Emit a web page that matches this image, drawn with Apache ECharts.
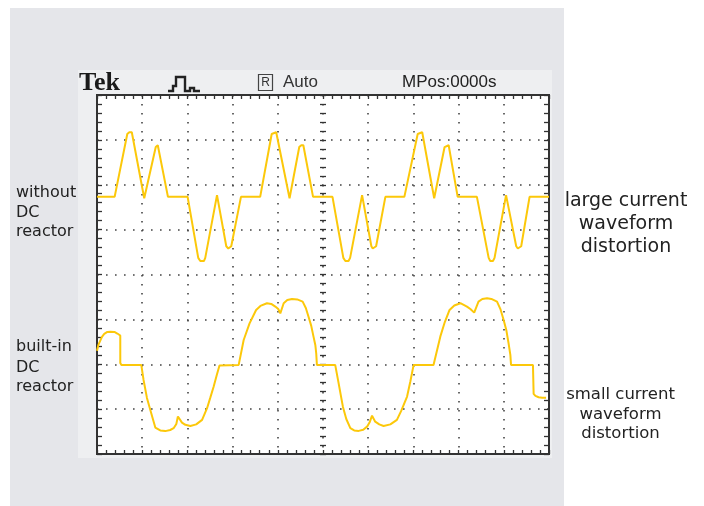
<!DOCTYPE html>
<html>
<head>
<meta charset="utf-8">
<script src="https://cdn.jsdelivr.net/npm/echarts@6/dist/echarts.min.js"></script>
<style>html,body{margin:0;padding:0;background:#fff}#c{width:704px;height:506px}</style>
</head>
<body>
<div id="c"></div>
<script>
// Time in 0.1 division units (0..100), amplitude in 0.1 division units (-40..40)
const withoutReactor = [
  [0,17.3],[3.9,17.3],[6.7,31.3],[7.15,31.7],[7.7,31.7],[8.05,31.3],[10.45,17.0],[13.0,28.4],[13.45,28.8],[13.8,28.4],[15.7,17.3],
  [20.05,17.3],[22.4,3.7],[22.85,3.0],[23.65,3.0],[23.95,3.7],[26.55,17.7],[28.6,6.3],[29.05,5.8],[29.4,5.8],[29.7,6.3],[31.85,17.3],
  [36.1,17.3],[38.65,31.3],[39.0,31.7],[39.65,31.7],[40.0,31.3],[42.6,17.0],[44.75,28.4],[45.2,28.8],[45.65,28.8],[45.95,28.4],[47.8,17.3],
  [52.1,17.3],[54.5,3.7],[54.95,3.0],[55.65,3.0],[56.0,3.7],[58.65,17.7],[60.7,6.3],[61.0,5.8],[61.4,5.8],[61.75,6.3],[63.8,17.3],
  [68.0,17.3],[70.95,31.3],[71.3,31.7],[71.95,31.7],[72.3,31.3],[74.6,17.0],[76.9,28.4],[77.3,28.8],[77.8,28.8],[78.1,28.4],[79.8,17.3],
  [84.05,17.3],[86.65,3.7],[87.0,3.0],[87.6,3.0],[87.95,3.7],[90.5,17.7],[92.75,6.3],[93.1,5.8],[93.5,5.8],[93.85,6.3],[95.7,17.3],[100,17.3]
];
const builtInReactor = [
  [0,-17.0],[0.3,-15.7],[1.1,-13.9],[1.6,-13.25],[2.3,-12.8],[2.95,-12.75],[3.85,-12.8],[4.5,-13.15],[5.15,-13.6],[5.15,-19.7],[5.4,-20.15],
  [9.8,-20.15],[10.3,-23.5],[11.05,-27.5],[12.0,-30.9],[12.9,-34.1],[14.0,-34.75],[15.1,-34.9],[16.2,-34.65],[16.95,-34.25],[17.55,-33.3],[17.9,-31.65],
  [18.8,-33.0],[19.55,-33.5],[20.65,-33.75],[21.95,-33.4],[23.25,-32.4],[24.35,-29.8],[25.05,-27.5],[25.8,-25.0],[26.5,-22.4],[27.1,-20.3],
  [31.35,-20.15],[32.45,-14.6],[33.75,-10.9],[35.2,-7.9],[36.15,-7.0],[37.6,-6.4],[38.55,-6.55],[39.45,-7.15],[40.1,-7.7],[40.55,-8.65],
  [41.3,-6.4],[42.1,-5.7],[43.15,-5.45],[44.3,-5.55],[45.5,-6.05],[46.2,-7.45],[46.8,-9.4],[47.4,-11.45],[47.9,-13.85],[48.3,-15.7],[48.5,-17.55],[48.65,-20.15],
  [52.7,-20.15],[53.45,-24.2],[54.4,-29.45],[55.15,-32.2],[56.05,-34.25],[56.9,-34.75],[57.9,-34.85],[58.9,-34.6],[59.75,-33.9],[60.35,-32.85],[60.85,-31.45],
  [61.55,-32.8],[62.45,-33.4],[63.4,-33.75],[64.9,-33.4],[66.35,-32.4],[67.3,-30.4],[68.6,-27.2],[69.3,-23.95],[70.05,-20.15],
  [74.45,-20.15],[75.95,-13.85],[76.95,-10.6],[78.0,-7.9],[79.05,-6.9],[80.4,-6.4],[81.85,-7.15],[82.6,-7.7],[83.45,-8.5],
  [84.4,-6.05],[85.25,-5.45],[86.3,-5.3],[87.25,-5.45],[88.5,-6.05],[89.25,-7.7],[89.95,-10.1],[90.55,-12.35],[91.05,-15.3],[91.45,-17.9],[91.6,-20.15],
  [96.45,-20.15],[96.6,-26.6],[97.0,-27.05],[97.7,-27.35],[98.5,-27.45],[99.35,-27.45]
];
const headerTexts = ['Tek', 'R', 'Auto', 'MPos:0000s'];
const leftLabelTop = ['without', 'DC', 'reactor'];
const leftLabelBottom = ['built-in', 'DC', 'reactor'];
const rightLabelTop = ['large current', 'waveform', 'distortion'];
const rightLabelBottom = ['small current', 'waveform', 'distortion'];

const INK = '#333';
const WAVE = '#fcc80a';
const dotLine = {color: '#444', width: 1.6, type: [1.6, 7.4]};

function edgeAxis(pos, inside, offset, line, split) {
  return {
    type: 'value', min: pos === 'x' ? 0 : -40, max: pos === 'x' ? 100 : 40, interval: 10,
    axisLine: {show: line, onZero: false, lineStyle: {color: INK, width: 2}},
    axisTick: {show: true, inside: inside, length: 3, lineStyle: {color: INK, width: 1.3}},
    minorTick: {show: true, splitNumber: 5, length: 3, lineStyle: {color: INK, width: 1.3}},
    axisLabel: {show: false},
    splitLine: {show: split, lineStyle: dotLine},
    offset: offset
  };
}
const xa0 = Object.assign(edgeAxis('x', true, 0, true, true), {position: 'bottom'});
xa0.axisTick.length = 4; xa0.minorTick.length = 4;
const xa1 = Object.assign(edgeAxis('x', true, 0, true, false), {position: 'top'});
xa1.axisTick.length = 4; xa1.minorTick.length = 4;
const ya0 = Object.assign(edgeAxis('y', true, 0, true, true), {position: 'left'});
ya0.axisTick.length = 5; ya0.minorTick.length = 5;
const ya1 = Object.assign(edgeAxis('y', true, 0, true, false), {position: 'right'});
ya1.axisTick.length = 5; ya1.minorTick.length = 5;
const ya2 = Object.assign(edgeAxis('y', true, -226, false, false), {position: 'left'});
const ya3 = Object.assign(edgeAxis('y', false, -226, false, false), {position: 'left'});

function txt(text, x, y, font, align, color) {
  return {type: 'text', z: 20, style: {text: text, x: x, y: y, font: font, fill: color || '#222',
    align: align || 'left', verticalAlign: 'middle', textAlign: align || 'left', textVerticalAlign: 'middle'}};
}
const labelFont = '16px "DejaVu Sans"';
const graphics = [
  {type: 'rect', z: -20, shape: {x: 10, y: 8, width: 554, height: 498}, style: {fill: '#e5e6ea'}},
  {type: 'rect', z: -19, shape: {x: 78, y: 70, width: 474, height: 388}, style: {fill: '#eeeff1'}},
  txt(headerTexts[0], 79, 83, 'bold 26px "Liberation Serif"', 'left', '#1a1a1a'),
  {type: 'polyline', z: 20, shape: {points: [[168, 91], [173, 91], [173, 86], [176, 86], [176, 77], [185, 77], [185, 91], [190, 91], [190, 88], [194, 88], [194, 91], [200, 91]]},
    style: {stroke: '#222', lineWidth: 2.4, fill: null}},
  {type: 'rect', z: 20, shape: {x: 258.5, y: 74.5, width: 14, height: 16}, style: {fill: 'none', stroke: '#444', lineWidth: 1.2}},
  txt(headerTexts[1], 265.5, 83, '12px "Liberation Sans"', 'center', '#333'),
  txt(headerTexts[2], 283, 82, '17px "Liberation Sans"', 'left', '#333'),
  txt(headerTexts[3], 402, 82, '17px "Liberation Sans"', 'left', '#222'),
  txt(leftLabelTop[0], 16, 192.5, labelFont), txt(leftLabelTop[1], 16, 212.5, labelFont), txt(leftLabelTop[2], 16, 232, labelFont),
  txt(leftLabelBottom[0], 16, 347, labelFont), txt(leftLabelBottom[1], 16, 367.5, labelFont), txt(leftLabelBottom[2], 16, 387, labelFont),
  txt(rightLabelTop[0], 626, 201.5, '19px "DejaVu Sans"', 'center'),
  txt(rightLabelTop[1], 626, 224.5, '19px "DejaVu Sans"', 'center'),
  txt(rightLabelTop[2], 626, 247, '19px "DejaVu Sans"', 'center'),
  txt(rightLabelBottom[0], 620.5, 395, '16.5px "DejaVu Sans"', 'center'),
  txt(rightLabelBottom[1], 620.5, 414.5, '16.5px "DejaVu Sans"', 'center'),
  txt(rightLabelBottom[2], 620.5, 434, '16.5px "DejaVu Sans"', 'center')
];

const chart = echarts.init(document.getElementById('c'), null, {renderer: 'canvas'});
chart.setOption({
  animation: false,
  backgroundColor: '#fff',
  grid: {left: 97, top: 95, width: 452, height: 359, show: true, backgroundColor: '#fff', borderColor: INK, borderWidth: 2, containLabel: false, outerBoundsMode: 'none'},
  xAxis: [xa0, xa1],
  yAxis: [ya0, ya1, ya2, ya3],
  graphic: graphics,
  series: [
    {name: 'without DC reactor', type: 'line', data: withoutReactor, xAxisIndex: 0, yAxisIndex: 0, showSymbol: false, smooth: false,
      lineStyle: {color: WAVE, width: 2}, itemStyle: {color: WAVE}, z: 10},
    {name: 'built-in DC reactor', type: 'line', data: builtInReactor, xAxisIndex: 0, yAxisIndex: 0, showSymbol: false, smooth: false,
      lineStyle: {color: WAVE, width: 2}, itemStyle: {color: WAVE}, z: 10}
  ]
});
</script>
</body>
</html>
